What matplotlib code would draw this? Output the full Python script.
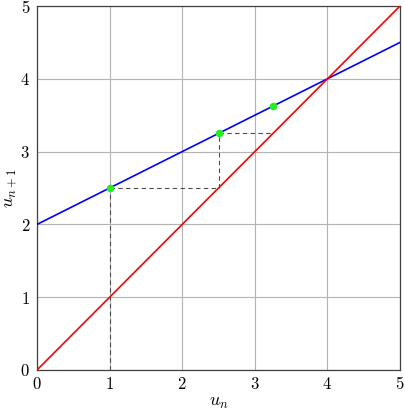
import matplotlib
matplotlib.use('Agg')
import matplotlib.pyplot as plt
import numpy as np

plt.rcParams['mathtext.fontset'] = 'cm'
plt.rcParams['font.family'] = 'serif'
plt.rcParams['font.serif'] = ['DejaVu Serif']

# data
x_range = [0, 5]
slope, intercept = 0.5, 2.0
seq = [1.0, 2.5, 3.25, 3.625]
ticks = [0, 1, 2, 3, 4, 5]

fig = plt.figure(figsize=(4.05, 4.09), dpi=100)
ax = fig.add_axes([0.0914, 0.0954, 0.8963, 0.8899])

xs = np.array(x_range)
ax.plot(xs, slope * xs + intercept, color='blue', lw=1.2, zorder=3)
ax.plot(xs, xs, color='red', lw=1.2, zorder=3)

# cobweb
dash = dict(color='0.3', lw=0.8, ls=(0, (4, 3)), zorder=2)
ax.plot([seq[0], seq[0]], [0, seq[1]], **dash)
ax.plot([seq[0], seq[1]], [seq[1], seq[1]], **dash)
ax.plot([seq[1], seq[1]], [seq[1], seq[2]], **dash)
ax.plot([seq[1], seq[2]], [seq[2], seq[2]], **dash)

ax.scatter(seq[:3], seq[1:], color='#22ee22', s=30, zorder=4, linewidths=0)

ax.set_xlim(0, 5)
ax.set_ylim(0, 5)
ax.set_xticks(ticks)
ax.set_yticks(ticks)
ax.set_xticklabels(['$%d$' % t for t in ticks], fontsize=12)
ax.set_yticklabels(['$%d$' % t for t in ticks], fontsize=12)
ax.tick_params(axis='x', length=0, pad=4)
ax.tick_params(axis='y', length=0, pad=5)
ax.grid(True, color='0.7', lw=0.8)
ax.set_axisbelow(True)
for s in ax.spines.values():
    s.set_color('0.25')
    s.set_linewidth(0.9)

ax.set_xlabel('$u_n$', fontsize=13, labelpad=0)
ax.set_ylabel('$u_{n+1}$', fontsize=13, labelpad=1)

fig.savefig('out.png', dpi=100)
